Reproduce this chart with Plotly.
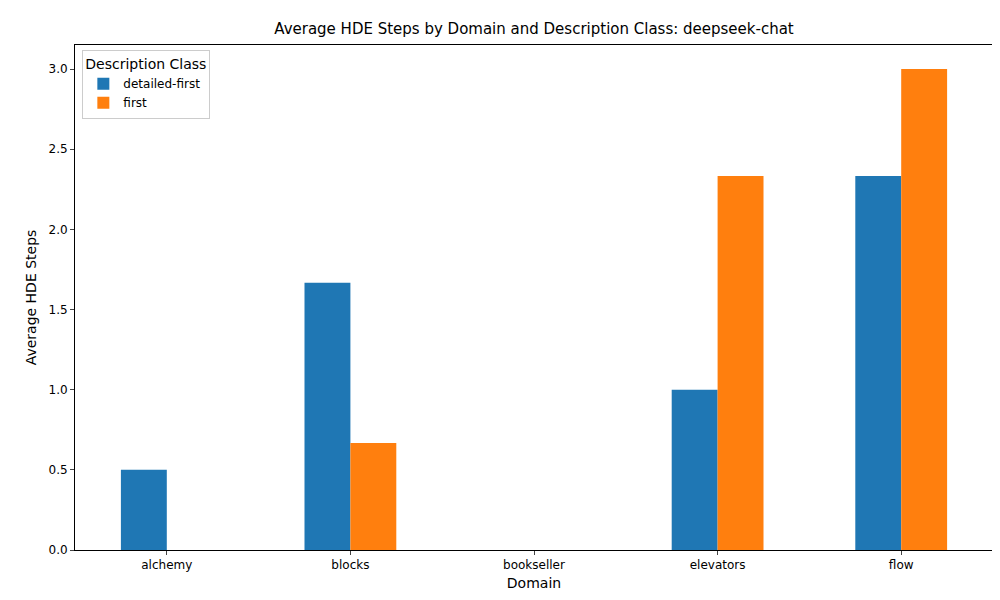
import plotly.graph_objects as go

domains = ["alchemy", "blocks", "bookseller", "elevators", "flow"]
detailed_first = [0.5, 1.6667, 0.0, 1.0, 2.3333]
first = [0.0, 0.6667, 0.0, 2.3333, 3.0]

fig = go.Figure()
fig.add_trace(go.Bar(x=domains, y=detailed_first, name="detailed-first", marker_color="#1f77b4", marker_line_width=0))
fig.add_trace(go.Bar(x=domains, y=first, name="first", marker_color="#ff7f0e", marker_line_width=0))

fig.update_layout(
    width=1000, height=600,
    barmode="group", bargap=0.5, bargroupgap=0,
    margin=dict(l=67, r=15, t=37, b=58),
    paper_bgcolor="white", plot_bgcolor="white",
    font=dict(family="DejaVu Sans", size=12, color="black"),
    title=dict(text="Average HDE Steps by Domain and Description Class: deepseek-chat",
               x=0.526, xanchor="center", y=0.975, font=dict(size=15)),
    xaxis=dict(title=dict(text="Domain", standoff=6), range=[-0.5, 4.5], showline=True, linecolor="black",
               mirror=True, ticks="outside", ticklen=4, showgrid=False),
    yaxis=dict(title=dict(text="Average HDE Steps", standoff=8), range=[0, 3.15], dtick=0.5, tickformat=".1f",
               showline=True, linecolor="black", mirror=True, ticks="outside", ticklen=4,
               showgrid=False, zeroline=False),
    legend=dict(title=dict(text="Description Class"), x=0.008, y=0.99, xanchor="left", yanchor="top",
                bordercolor="#cccccc", borderwidth=1, bgcolor="white"),
)

fig.write_html("out.html")
